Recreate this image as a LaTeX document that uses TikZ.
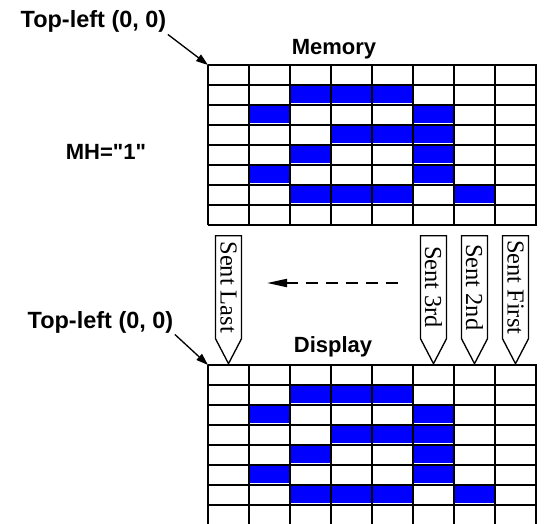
\documentclass[tikz,border=0pt]{standalone}
\usepackage{fontspec}
\setmainfont{Liberation Sans}[Ligatures=TeXOff]
\newfontfamily\tagfont{Liberation Serif}
\usetikzlibrary{arrows.meta, positioning, shapes.symbols}
\definecolor{pixelblue}{RGB}{0, 0, 255}
\tikzset{
    % Grid lines of the pixel array
    gridline/.style={
        line width=1.3pt,
        black,
    },
    % Lit pixel
    pixelon/.style={
        fill=pixelblue,
    },
    % Bold caption
    biglabel/.style={
        font=\fontsize{16.5}{18}\selectfont\bfseries,
        inner sep=1pt,
    },
    % Corner caption
    cornerlabel/.style={
        font=\fontsize{17.6}{19}\selectfont\bfseries,
        inner sep=1pt,
    },
    % Send order tag (points down)
    sendtag/.style={
        draw, line width=1pt,
        shape=signal, signal to=east,
        signal pointer angle=55,
        rotate=-90,
        minimum width=96pt,
        minimum height=19.5pt,
        inner sep=1pt,
        font=\tagfont\fontsize{18.3}{20}\selectfont,
    },
    % Arrow to the top-left corner
    cornerarrow/.style={
        -{Triangle[length=9pt, width=6pt]},
        line width=1pt,
    },
    % Send order arrow
    orderarrow/.style={
        -{Triangle[length=15pt, width=6pt]},
        line width=1.5pt,
        dash pattern=on 9pt off 6pt,
    },
}

\begin{document}
\begin{tikzpicture}[x=0.75pt, y=-0.75pt]
\useasboundingbox (0,0) rectangle (549,524);

% =========================================================================
% PIXEL ARRAYS (memory at 65, display at 365)
% =========================================================================
\foreach \top in {65, 365} {
    % lit pixels
    \foreach \r/\c in {1/2, 1/3, 1/4, 2/1, 2/5, 3/3, 3/4, 3/5, 4/2, 4/5,
                       5/1, 5/5, 6/2, 6/3, 6/4, 6/6} {
        \fill[pixelon] (208+41*\c+1, \top+20*\r+1) rectangle ++(39, 17);
    }
    % rows and columns
    \foreach \r in {0,...,8} {
        \draw[gridline] (207.5, \top+20*\r) -- (536.5, \top+20*\r);
    }
    \foreach \c in {0,...,8} {
        \draw[gridline] (208+41*\c, \top) -- (208+41*\c, \top+160);
    }
}
\coordinate (memcorner) at (208, 65);
\coordinate (dispcorner) at (208, 365);

% =========================================================================
% LABELS
% =========================================================================
\node[biglabel, anchor=base] (memory) at (334, 55) {Memory};
\node[biglabel, anchor=base] (display) at (333, 352) {Display};
\node[biglabel] (mh) at (106, 152) {MH="1"};

\node[cornerlabel, anchor=base] (tlmem) at (93.5, 28) {Top-left (0, 0)};
\node[cornerlabel, anchor=base] (tldisp) at (100.5, 328) {Top-left (0, 0)};

\draw[cornerarrow] (tlmem.south east) -- (memcorner);
\draw[cornerarrow] (tldisp.south east) -- (dispcorner);

% =========================================================================
% SEND ORDER TAGS
% =========================================================================
\node[sendtag, anchor=west] (sentlast) at (228.5, 235) {Sent Last};
\node[sendtag, anchor=west] (sent3rd) at (433.5, 235) {Sent 3rd};
\node[sendtag, anchor=west] (sent2nd) at (474.5, 235) {Sent 2nd};
\node[sendtag, anchor=west] (sentfirst) at (515.5, 235) {Sent First};

\coordinate (orderstart) at (398, 283);
\coordinate (orderend) at (267, 283);
\draw[orderarrow] (orderstart) -- (orderend);

\end{tikzpicture}
\end{document}
